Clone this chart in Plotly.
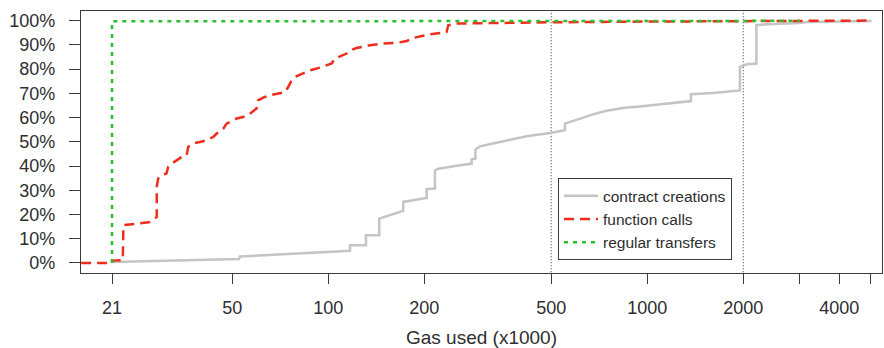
import plotly.graph_objects as go

# ---- data (gas used in thousands, cumulative fraction) ----
contract_x = [21, 52.5, 52.9, 81.5, 117, 117, 131.3, 131.3, 144.5, 144.5, 161.8, 171.8, 171.8,
              189.3, 203.5, 203.5, 216, 216, 221.2, 258.8, 281.6, 281.6, 289.4, 289.4, 298.9,
              345.3, 418.8, 495.5, 540, 552, 552, 615, 680, 746, 850, 948, 1150, 1371, 1371,
              1610, 1953, 1953, 2050, 2199, 2199, 2368, 3011, 3160, 5050]
contract_y = [0.004, 0.016, 0.027, 0.040, 0.050, 0.073, 0.073, 0.114, 0.114, 0.183, 0.204, 0.215,
              0.252, 0.261, 0.268, 0.305, 0.307, 0.382, 0.389, 0.403, 0.410, 0.427, 0.431, 0.468,
              0.481, 0.499, 0.523, 0.536, 0.546, 0.548, 0.575, 0.596, 0.614, 0.628, 0.640, 0.646,
              0.658, 0.668, 0.696, 0.701, 0.712, 0.809, 0.820, 0.823, 0.981, 0.985, 0.990, 0.994,
              0.998]

calls_x = [16.8, 21, 21, 22.7, 22.8, 27.6, 28.6, 29.0, 29.0, 29.3, 30.05, 31.1, 31.5, 32.3, 34.7,
           36.0, 36.4, 37.7, 39.6, 41.6, 43.6, 44.7, 46.9, 48.0, 51.6, 54.1, 56.8, 59.6, 60.3,
           62.5, 65.6, 69.7, 73.2, 74.9, 76.8, 78.6, 83.5, 87.6, 94.2, 98.9, 102.5, 105, 108.8,
           114.2, 117, 122.7, 135.1, 148.8, 163.9, 176.1, 189.3, 208.4, 235.1, 237.8, 252.7,
           306.2, 389.6, 495.5, 1000, 3011, 5050]
calls_y = [0, 0, 0.010, 0.012, 0.156, 0.169, 0.183, 0.190, 0.314, 0.348, 0.362, 0.369, 0.396,
           0.410, 0.437, 0.444, 0.479, 0.493, 0.499, 0.506, 0.520, 0.534, 0.554, 0.575, 0.596,
           0.602, 0.616, 0.637, 0.671, 0.682, 0.692, 0.699, 0.705, 0.726, 0.754, 0.767, 0.784,
           0.795, 0.806, 0.816, 0.823, 0.843, 0.853, 0.864, 0.877, 0.887, 0.898, 0.905, 0.908,
           0.916, 0.932, 0.943, 0.953, 0.981, 0.988, 0.990, 0.992, 0.993, 0.996, 0.999, 1.0]

transfers_x = [21, 21, 3011]
transfers_y = [0, 0.997, 0.999]

ref_lines = [500, 2000]

x_tickvals = [21, 50, 100, 200, 500, 1000, 2000, 3000, 4000, 5000]
x_ticktext = ['21', '50', '100', '200', '500', '1000', '2000', '', '4000', '']
y_tickvals = [i / 10 for i in range(11)]
y_ticktext = [f'{i * 10}%' for i in range(11)]

FONT = 'Liberation Sans, Arial, sans-serif'
TXT = '#2e2e2e'
AX = '#3a3a3a'

fig = go.Figure()

for xv in ref_lines:
    fig.add_trace(go.Scatter(x=[xv, xv], y=[-0.1, 1.1], mode='lines', showlegend=False,
                             hoverinfo='skip',
                             line=dict(color='#333333', width=1, dash='1px,2px')))

fig.add_trace(go.Scatter(x=contract_x, y=contract_y, mode='lines', name='contract creations',
                         line=dict(color='#c4c4c4', width=2.5)))
fig.add_trace(go.Scatter(x=calls_x, y=calls_y, mode='lines', name='function calls',
                         line=dict(color='#ee2d1d', width=2.5, dash='10px,6px')))
fig.add_trace(go.Scatter(x=transfers_x, y=transfers_y, mode='lines', name='regular transfers',
                         line=dict(color='#2ac22a', width=2.5, dash='4px,5px')))

fig.update_layout(
    width=884, height=348,
    margin=dict(l=81, r=2, t=11, b=75),
    paper_bgcolor='white', plot_bgcolor='white',
    font=dict(family=FONT, color=TXT, size=18),
    legend=dict(x=0.5955, y=0.3615, xanchor='left', yanchor='top',
                bgcolor='white', bordercolor=AX, borderwidth=1, itemwidth=34,
                font=dict(size=15.5, color=TXT), tracegroupgap=0),
)
fig.update_xaxes(type='log', range=[1.225, 3.736], tickvals=x_tickvals, ticktext=x_ticktext,
                 showgrid=False, zeroline=False, showline=True, mirror=True, automargin=False,
                 linecolor=AX, linewidth=1.3, ticks='outside', ticklen=10, tickwidth=1.3,
                 tickcolor=AX, tickfont=dict(size=18, color=TXT), ticklabelstandoff=8,
                 title=dict(text='Gas used (x1000)', font=dict(size=19, color=TXT), standoff=17))
fig.update_yaxes(range=[-0.0413, 1.0396], tickvals=y_tickvals, ticktext=y_ticktext,
                 showgrid=False, zeroline=False, showline=True, mirror=True, automargin=False,
                 linecolor=AX, linewidth=1.3, ticks='outside', ticklen=11, tickwidth=1.3,
                 tickcolor=AX, tickfont=dict(size=18, color=TXT), ticklabelstandoff=10)

fig.write_html('out.html')
